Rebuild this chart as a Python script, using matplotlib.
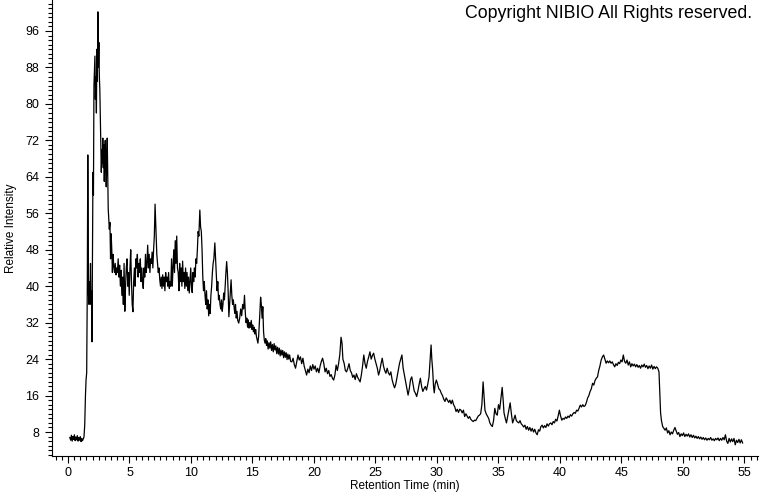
import matplotlib
matplotlib.use("Agg")
import matplotlib.pyplot as plt
from matplotlib.ticker import MultipleLocator

plt.rcParams['font.family'] = ['Liberation Sans', 'DejaVu Sans']

# (retention time [min], relative intensity)
trace = [
    (0.15,6.8),(0.22,6.2),(0.28,7.3),(0.34,6.0),(0.40,7.0),(0.46,6.4),(0.52,7.4),(0.58,6.1),(0.64,6.9),(0.70,6.3),
    (0.76,7.2),(0.82,6.0),(0.88,6.8),(0.94,6.2),(1.00,7.0),(1.06,5.9),(1.12,6.6),(1.18,6.1),(1.24,6.5),(1.30,6.9),
    (1.36,9.5),(1.42,16),(1.47,19.5),(1.52,21),(1.57,40),(1.61,68.8),(1.64,55),(1.67,38),(1.71,36),(1.75,41),
    (1.79,37),(1.83,45),(1.87,36),(1.91,39),(1.95,27.8),(1.99,48),(2.03,65),(2.07,60),(2.11,84),(2.15,87),
    (2.19,90.5),(2.23,81),(2.27,86),(2.31,78),(2.35,92),(2.39,85),(2.43,100.2),(2.47,88),(2.51,93.5),(2.55,86),
    (2.59,83),(2.63,77),(2.67,72),(2.71,65),(2.75,70),(2.79,67),(2.83,72.5),(2.87,66),(2.91,71),(2.95,63),
    (2.99,69),(3.03,72),(3.07,66),(3.11,61.8),(3.15,68),(3.19,72.5),(3.23,64),(3.27,57),(3.31,55),(3.36,52.5),
    (3.41,54),(3.46,46),(3.51,51.5),(3.56,48),(3.61,43),(3.66,47),(3.72,44.5),(3.78,43),(3.84,45),(3.90,42.5),
    (3.96,44),(4.02,43),(4.08,46),(4.14,42),(4.20,44.6),(4.26,40),(4.32,43.5),(4.38,38),(4.44,42),(4.50,36),
    (4.56,45),(4.62,34.5),(4.68,40),(4.74,44),(4.80,46),(4.86,40),(4.92,43),(4.98,38),(5.04,44),(5.10,48),
    (5.16,41),(5.22,36),(5.28,34.4),(5.34,41),(5.40,44),(5.46,40),(5.52,46),(5.58,44),(5.64,47),(5.70,42),
    (5.76,45),(5.82,43),(5.88,46),(5.94,41),(6.00,44),(6.06,41),(6.12,39.5),(6.18,44),(6.24,42),(6.30,47),
    (6.36,43),(6.42,45),(6.48,49),(6.54,44),(6.60,47),(6.66,43),(6.72,46),(6.78,45),(6.84,47.5),(6.90,44),
    (6.96,48),(7.02,51),(7.08,58),(7.12,55),(7.16,51.6),(7.22,47),(7.28,45),(7.34,43),(7.40,44),(7.46,41.5),
    (7.52,40),(7.58,42),(7.64,39.5),(7.70,42.5),(7.76,40),(7.82,42),(7.88,39),(7.94,43),(8.00,41),(8.06,42),
    (8.12,40),(8.18,43),(8.24,39.5),(8.30,41),(8.36,40),(8.42,46),(8.48,40),(8.54,44),(8.60,48),(8.66,43),
    (8.72,50),(8.78,45),(8.84,51),(8.90,44),(8.96,43),(9.02,39),(9.08,45),(9.14,41),(9.20,44),(9.26,40),
    (9.32,45.5),(9.38,41),(9.44,43),(9.50,39.5),(9.56,44),(9.62,40),(9.68,43),(9.74,39),(9.80,42),(9.86,38.5),
    (9.92,41),(9.98,44),(10.04,40),(10.10,38.6),(10.16,43),(10.22,41),(10.28,44),(10.34,42),(10.40,46),(10.46,45),
    (10.52,48),(10.58,52),(10.64,51),(10.72,56.7),(10.78,53),(10.84,52),(10.90,48),(10.96,42),(11.02,39),(11.08,41),
    (11.14,38),(11.20,36),(11.26,39),(11.32,35),(11.38,37),(11.44,33.5),(11.50,36),(11.56,34),(11.62,38),(11.68,40),
    (11.74,43),(11.80,45),(11.86,46),(11.94,49.5),(12.00,46),(12.06,42),(12.12,39),(12.18,41),(12.24,37),(12.30,38),
    (12.36,36),(12.42,35),(12.48,37),(12.54,34.5),(12.60,36),(12.66,38.5),(12.72,37),(12.78,40),(12.84,43),(12.90,45.4),
    (12.96,43),(13.02,39),(13.08,33.3),(13.14,36),(13.20,39),(13.26,41.4),(13.32,38),(13.38,36),(13.44,37),(13.50,35.5),
    (13.56,34),(13.62,36),(13.68,33),(13.74,34.5),(13.80,32.5),(13.88,31.9),(13.96,33),(14.04,35),(14.12,33.5),(14.20,36),
    (14.28,35),(14.35,38),(14.42,34),(14.48,32),(14.54,33),(14.60,31),(14.66,32.6),(14.72,30.8),(14.78,32),(14.84,31),
    (14.90,32.5),(14.96,30.5),(15.02,31.5),(15.08,30),(15.14,31),(15.20,29.5),(15.26,30.5),(15.32,29),(15.38,28.2),(15.44,27.5),
    (15.50,29),(15.58,33),(15.66,37.6),(15.72,36),(15.78,33),(15.84,35.5),(15.90,30),(15.96,28.2),(16.02,27.5),(16.08,28.5),
    (16.14,27),(16.20,28),(16.27,26.2),(16.34,27.6),(16.41,26.4),(16.48,27.8),(16.55,25.9),(16.62,27.2),(16.69,25.6),(16.76,27.4),
    (16.83,26),(16.90,26.9),(16.97,25.2),(17.04,26.6),(17.11,25.1),(17.18,26.4),(17.25,24.7),(17.32,26),(17.39,24.9),(17.46,25.9),
    (17.53,24.3),(17.60,25.6),(17.67,24.4),(17.74,25.4),(17.81,23.9),(17.88,25.1),(17.95,24),(18.02,24.9),(18.10,23.5),(18.20,23.4),
    (18.30,24.2),(18.40,22.8),(18.50,22),(18.60,23.5),(18.70,24.9),(18.80,23.8),(18.90,24.5),(19.00,23),
    (19.10,24.2),(19.20,22.5),(19.30,21.5),(19.40,20.5),(19.50,21.8),(19.60,21),(19.70,22.5),(19.80,21.5),(19.90,22.8),(20.00,21.8),
    (20.10,22.5),(20.20,21.2),(20.30,22),(20.40,21),(20.50,22.5),(20.60,23.5),(20.70,24.2),(20.80,23),(20.90,21.2),(21.00,22),
    (21.10,20.8),(21.20,21.5),(21.30,20.2),(21.40,20.6),(21.50,19.8),(21.60,19.4),(21.70,20.5),(21.80,22.7),(21.90,21.5),(22.00,23),
    (22.10,25),(22.20,28.8),(22.28,27.5),(22.35,24),(22.45,23.1),(22.55,21.5),(22.65,21.2),(22.75,22),(22.85,23),(22.95,21.5),
    (23.05,21),(23.15,20),(23.25,20.5),(23.35,19.5),(23.45,20.8),(23.55,20),(23.65,19.5),(23.75,19),(23.85,20.5),(23.95,22.5),
    (24.05,24.9),(24.15,23),(24.25,22),(24.35,23.5),(24.45,24.5),(24.55,25.6),(24.65,24),(24.75,24.8),(24.85,25.3),(24.95,24),
    (25.05,23),(25.15,22),(25.25,20.5),(25.35,21.5),(25.45,23),(25.55,24.2),(25.65,22.5),(25.75,21.5),(25.85,20.9),(25.95,22),
    (26.05,21),(26.15,20.5),(26.25,21.2),(26.35,19.5),(26.45,18.5),(26.55,17.7),(26.65,18.5),(26.75,20),(26.85,21.5),(26.95,23),
    (27.05,24),(27.15,24.9),(27.25,22),(27.35,20.5),(27.45,19),(27.55,17.5),(27.65,16.1),(27.75,17.5),(27.85,19.5),(27.95,20.1),
    (28.05,18.5),(28.15,17),(28.25,16.5),(28.35,15.8),(28.45,17),(28.55,18.5),(28.65,19.8),(28.75,18),(28.85,16.9),(28.95,17.5),
    (29.05,18),(29.15,17.2),(29.25,18.5),(29.35,20),(29.45,24),(29.52,27.1),(29.58,24),(29.65,21.6),(29.72,18),(29.78,16.6),
    (29.85,18.5),(29.95,19.4),(30.05,18.5),(30.15,17.5),(30.25,17.2),(30.35,16.5),(30.45,16),(30.55,15.2),(30.65,14.7),(30.75,15.5),
    (30.85,15),(30.95,14.5),(31.05,15),(31.15,14.2),(31.25,15),(31.35,14),(31.45,13.5),(31.55,12.5),(31.65,13),(31.75,12.3),
    (31.85,13),(31.95,12.8),(32.05,12.2),(32.15,12.8),(32.25,11.4),(32.35,12),(32.45,11.5),(32.55,11),(32.65,11.4),(32.75,10.8),
    (32.85,10.5),(32.95,10.3),(33.05,10.6),(33.15,10.5),(33.25,11),(33.35,11.5),(33.45,11.7),(33.55,12),(33.65,14),(33.75,19),
    (33.82,16),(33.90,12.8),(34.00,12),(34.10,11.5),(34.20,11),(34.30,10),(34.40,9.5),(34.50,9.2),(34.60,10.5),(34.70,13.2),
    (34.80,12),(34.90,11.7),(35.00,14),(35.10,13),(35.20,15.5),(35.30,17.8),(35.38,15),(35.45,12.2),(35.55,11),(35.65,10),
    (35.75,11.5),(35.85,13),(35.95,14.4),(36.05,12),(36.15,10),(36.25,10.8),(36.35,11.7),(36.45,10.5),(36.55,10.2),(36.65,10),
    (36.75,10.5),(36.85,9.8),(36.95,9.5),(37.05,9.1),(37.15,9.5),(37.25,8.6),(37.35,9.2),(37.45,8.4),(37.55,9),(37.65,8.2),
    (37.75,8.8),(37.85,8),(37.95,8.6),(38.05,7.8),(38.15,7.4),(38.25,8.5),(38.35,8.2),(38.45,9.2),(38.55,9.5),(38.65,8.9),
    (38.75,9.4),(38.85,9),(38.95,9.8),(39.05,9.3),(39.15,9.8),(39.25,10),(39.35,9.6),(39.45,10.3),(39.55,10),(39.65,10.8),
    (39.75,10.4),(39.85,11.5),(39.95,12.8),(40.05,11.5),(40.15,10.6),(40.25,11),(40.35,10.8),(40.45,11.3),(40.55,11),(40.65,11.5),
    (40.75,11.2),(40.85,11.8),(40.95,11.5),(41.05,12),(41.15,12.3),(41.25,12.1),(41.35,12.8),(41.45,12.6),(41.55,13.2),(41.65,13.9),
    (41.75,13.5),(41.85,14),(41.95,13.6),(42.05,13.8),(42.15,14.5),(42.25,15.5),(42.35,16),(42.45,16.9),(42.55,17.5),(42.65,18.7),
    (42.75,18.3),(42.85,19.3),(42.95,19.8),(43.05,20.1),(43.15,21.5),(43.25,22.5),(43.35,23.8),(43.45,24.5),(43.55,24.9),(43.65,24),
    (43.75,23.1),(43.85,23.6),(43.95,23.2),(44.05,23.6),(44.15,23.1),(44.25,23.4),(44.35,22.8),(44.45,22.3),(44.55,23),(44.65,22.6),
    (44.75,23.3),(44.85,23),(44.95,23.8),(45.05,23.4),(45.15,24.9),(45.25,23.5),(45.35,23.1),(45.45,23.8),(45.55,22.7),(45.65,23.4),
    (45.75,22.3),(45.85,23),(45.95,22.5),(46.05,22.9),(46.15,22.3),(46.25,22.8),(46.35,22.2),(46.45,22.6),(46.55,22),(46.65,22.7),
    (46.75,22.3),(46.85,22.9),(46.95,22.2),(47.05,22.6),(47.15,21.9),(47.25,22.5),(47.35,22),(47.45,22.7),(47.55,21.8),(47.65,22.4),
    (47.75,21.9),(47.85,22.3),(47.95,22),(48.05,21.2),(48.12,16),(48.18,12.2),(48.25,10.5),(48.35,9.2),(48.45,8.8),(48.55,8.4),
    (48.65,8.9),(48.75,7.8),(48.85,8.3),(48.95,7.4),(49.05,8),(49.15,7.6),(49.25,8.4),(49.35,9),(49.45,8.2),(49.55,7.5),
    (49.65,7.9),(49.75,7),(49.85,7.6),(49.95,7.2),(50.05,7.8),(50.15,7),(50.25,7.5),(50.35,7.1),(50.45,7.6),(50.55,6.9),
    (50.65,7.4),(50.75,6.8),(50.85,7.3),(50.95,6.7),(51.05,7.1),(51.15,6.6),(51.25,7),(51.35,6.5),(51.45,6.9),(51.55,6.4),
    (51.65,6.8),(51.75,6.3),(51.85,6.7),(51.95,6.2),(52.05,6.6),(52.15,6.3),(52.25,6.8),(52.35,6.2),(52.45,6.5),(52.55,6.1),
    (52.65,6.6),(52.75,6.3),(52.85,6.7),(52.95,6.1),(53.05,6.6),(53.15,6.2),(53.25,6.8),(53.35,6.3),(53.45,7.4),(53.55,6),
    (53.65,5.5),(53.75,6.6),(53.85,5.8),(53.95,6.5),(54.05,5.9),(54.15,6.6),(54.25,5.2),(54.35,6.2),(54.45,5.7),(54.55,6.4),
    (54.65,5.6),(54.75,6.3),(54.85,5.6),
]
retention_time = [p[0] for p in trace]
intensity = [p[1] for p in trace]

x_ticks = [0, 5, 10, 15, 20, 25, 30, 35, 40, 45, 50, 55]
y_ticks = [8, 16, 24, 32, 40, 48, 56, 64, 72, 80, 88, 96]

W, H = 760, 492
fig = plt.figure(figsize=(W / 100, H / 100), dpi=100)
ax = fig.add_axes([52 / W, (H - 456) / H, (758 - 52) / W, 456 / H])

ax.plot(retention_time, intensity, color='black', lw=0.9)

ax.set_xlim(-1.3, 56.1)
ax.set_ylim(2.74, 102.8)
ax.set_xticks(x_ticks)
ax.set_yticks(y_ticks)
ax.xaxis.set_minor_locator(MultipleLocator(0.5))
ax.yaxis.set_minor_locator(MultipleLocator(1))

for s in ('top', 'right'):
    ax.spines[s].set_visible(False)
for s in ('left', 'bottom'):
    ax.spines[s].set_linewidth(0.8)

ax.tick_params(axis='both', which='major', direction='out', length=5, width=0.8, labelsize=9)
ax.tick_params(axis='both', which='minor', direction='out', length=3, width=0.8)
ax.tick_params(axis='x', which='major', pad=3)
ax.tick_params(axis='y', which='major', pad=4)

ax.set_xlabel('Retention Time (min)', fontsize=8.5, labelpad=1)
ax.set_ylabel('Relative Intensity', fontsize=8.5, labelpad=6)

fig.text(752 / W, 1 - 14 / H, 'Copyright NIBIO All Rights reserved.',
         ha='right', va='center', fontsize=12.8)

fig.savefig('out.png', dpi=100)
